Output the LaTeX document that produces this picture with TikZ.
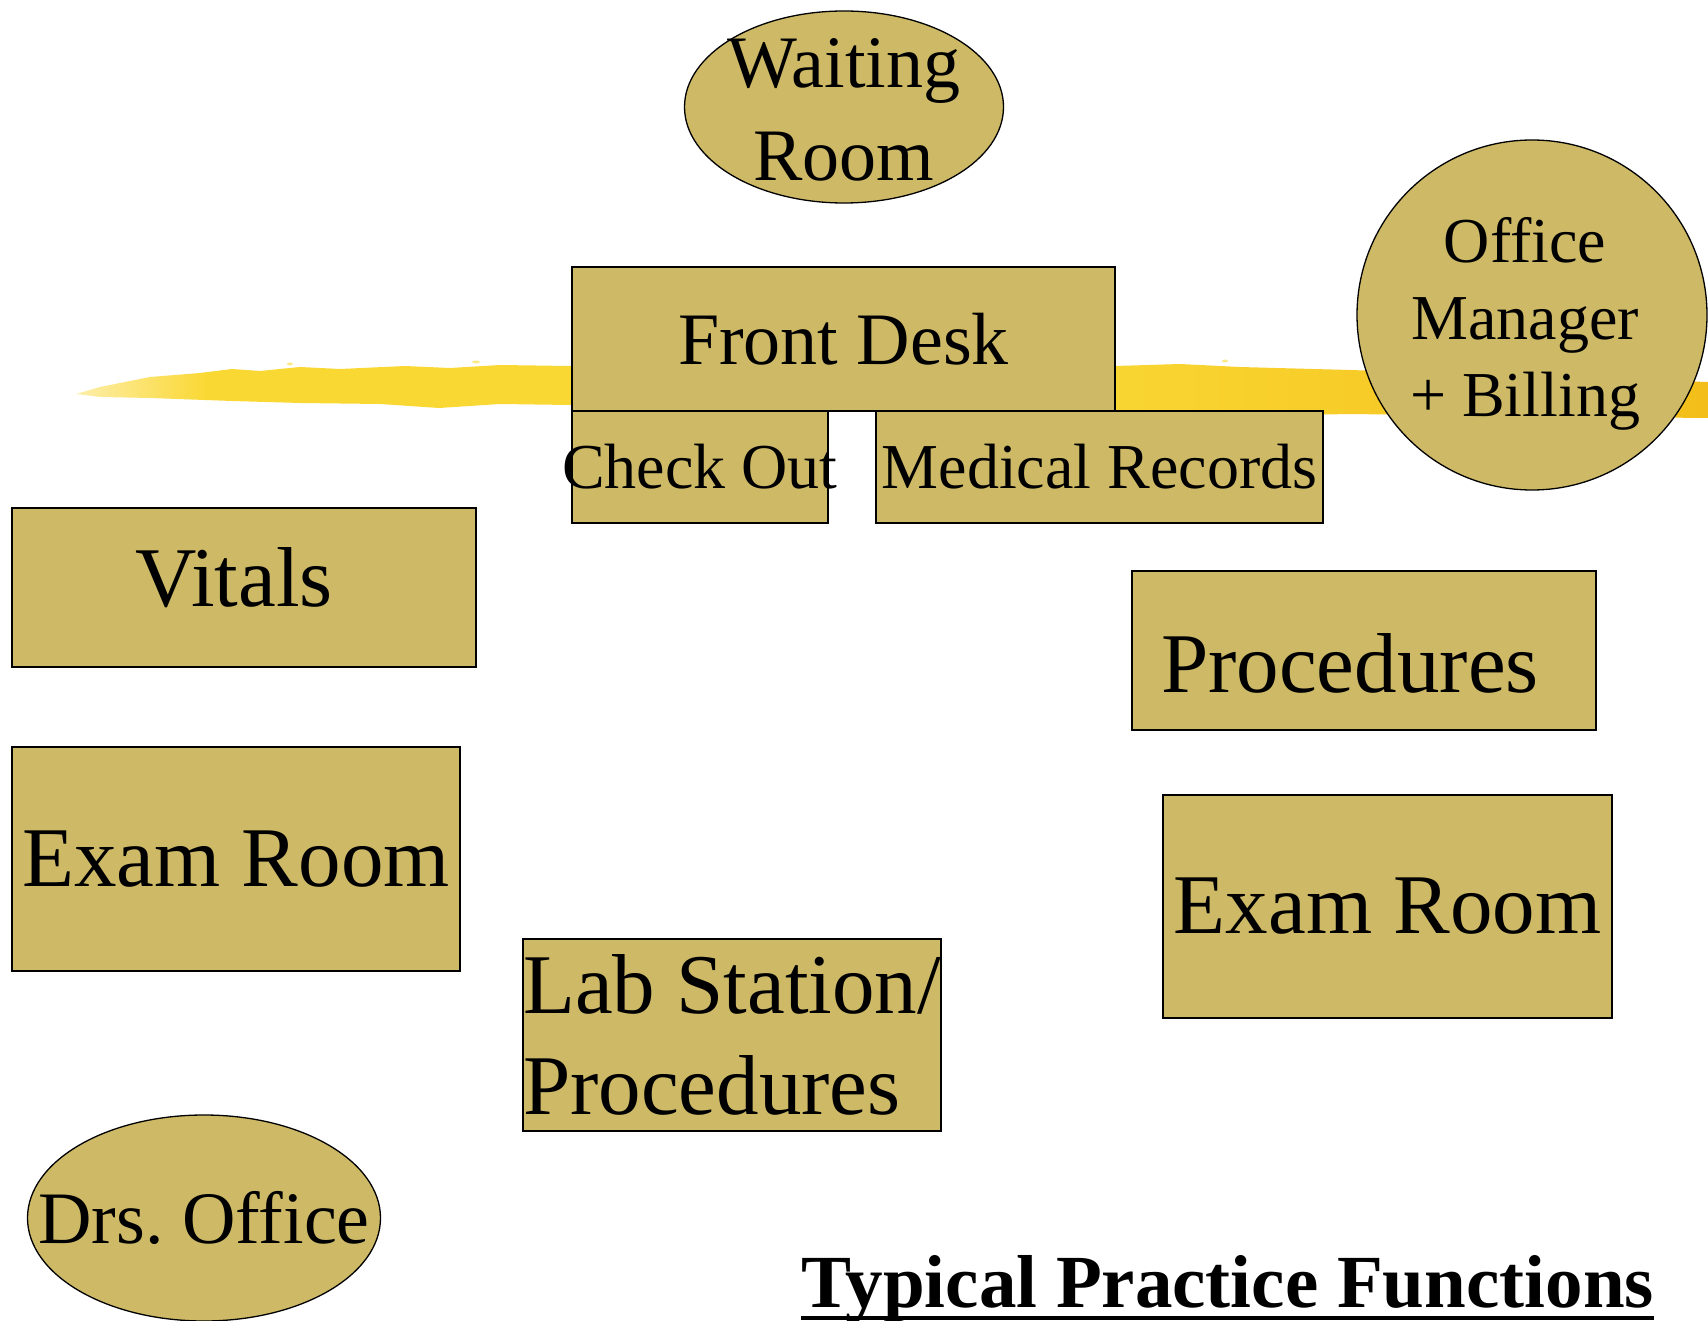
\documentclass[tikz,border=0pt]{standalone}
\usepackage{fontspec}
\setmainfont{Liberation Serif}
\usetikzlibrary{shapes.geometric}
\definecolor{roomfill}{RGB}{205,185,102}
\definecolor{brushpale}{RGB}{253,238,170}
\definecolor{brushmid}{RGB}{250,216,52}
\definecolor{brushdeep}{RGB}{243,190,26}
\pgfdeclarehorizontalshading{brush}{100bp}{color(0bp)=(brushpale); color(25bp)=(brushpale);
  color(29bp)=(brushmid); color(55bp)=(brushmid); color(75bp)=(brushdeep); color(100bp)=(brushdeep)}

\begin{document}
\begin{tikzpicture}[x=1pt,y=-1pt,
    room/.style={draw,line width=2.5pt,fill=roomfill,inner sep=0pt,align=center},
    oval/.style={draw,line width=1.3pt,fill=roomfill,inner sep=0pt},
    bigtext/.style={font=\fontsize{85}{101}\selectfont},
    midtext/.style={font=\fontsize{74}{87}\selectfont},
    smalltext/.style={font=\fontsize{64}{77}\selectfont}]
\useasboundingbox (0,0) rectangle (1708,1321);

% yellow brush stroke behind the front desk
\shade[shading=brush]
    (76,394)--(100,387)--(150,377)--(200,373)--(232,369)--(260,371)--(300,367)
    --(340,369)--(405,366)--(450,368)--(500,365)--(570,366)--(700,366)--(900,364)
    --(1115,366)--(1180,364)--(1240,367)--(1350,370)--(1500,375)--(1708,382)
    --(1708,418)--(1500,416)--(1350,414)--(1200,417)--(1115,416)--(900,410)
    --(700,407)--(570,405)--(500,404)--(439,408)--(380,404)--(300,403)--(232,401)
    --(150,398)--(101,397)--cycle;
\fill[brushmid!60] (290,364) ellipse (3 and 1.5) (476,362) ellipse (4 and 1.5)
    (1225,361) ellipse (3 and 1.5);

% rooms
\node[oval,ellipse,minimum width=319pt,minimum height=192pt,
    label={[font=\fontsize{74}{93}\selectfont,align=center,yshift=-3pt]center:Waiting\\Room}] (waiting) at (844,107) {};
\node[room,midtext,minimum width=543pt,minimum height=144pt] (frontdesk) at (843.5,339) {Front Desk};
\node[room,minimum width=256pt,minimum height=112pt,
    label={[smalltext]center:Check Out}] (checkout) at (700,467) {};
\node[room,smalltext,minimum width=447pt,minimum height=112pt] (records) at (1099.5,467) {Medical Records};
\node[oval,circle,minimum size=350pt,
    label={[smalltext,align=center,xshift=-7pt,yshift=-9pt]center:Office\\Manager\\+ Billing}] (manager) at (1532,315) {};
\node[room,minimum width=464pt,minimum height=159pt,
    label={[bigtext,xshift=-10pt,yshift=10pt]center:Vitals}] (vitals) at (244,587.5) {};
\node[room,minimum width=464pt,minimum height=159pt,
    label={[bigtext,xshift=-14pt,yshift=-13pt]center:Procedures}] (procs) at (1364,650.5) {};
\node[room,bigtext,minimum width=448pt,minimum height=224pt] (examL) at (236,859) {Exam Room};
\node[room,bigtext,minimum width=449pt,minimum height=223pt] (examR) at (1387.5,906.5) {Exam Room};
\node[room,bigtext,align=left,minimum width=416pt,minimum height=192pt] (lab) at (732,1035) {Lab Station/\\Procedures};
\node[oval,ellipse,minimum width=353pt,minimum height=206pt,
    label={[midtext]center:Drs.\ Office}] (drs) at (204,1218) {};

% caption
\node[font=\fontsize{75}{88}\selectfont\bfseries,inner sep=0pt,anchor=base west] (title) at (801,1307) {Typical Practice Functions};
\draw[line width=4pt] ([yshift=-11pt]title.base west)--([yshift=-11pt]title.base east);

\end{tikzpicture}
\end{document}
